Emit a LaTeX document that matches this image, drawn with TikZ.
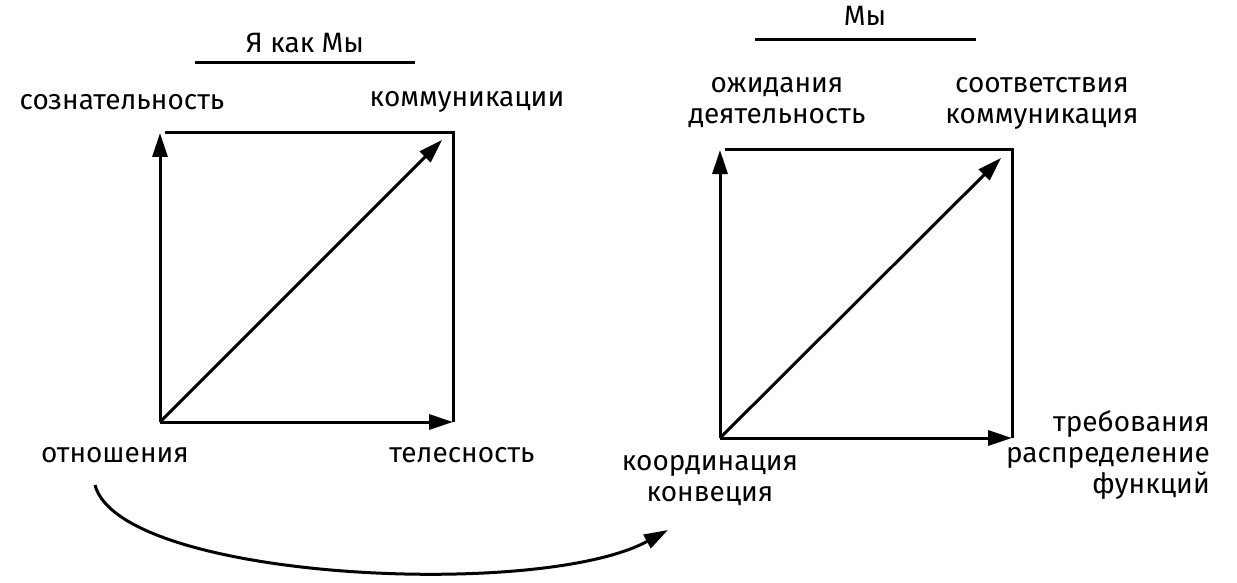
\documentclass[tikz,border=0pt]{standalone}
\usepackage{fontspec}
\setmainfont{Fira Sans}
\usetikzlibrary{arrows.meta}
\begin{document}
\begin{tikzpicture}[x=1pt,y=-1pt,
  ln/.style={line width=3pt},
  arr/.style={line width=3pt,-{Triangle[length=24pt,width=15pt]}},
  lbl/.style={font=\fontsize{28}{31}\selectfont,inner sep=0pt,align=center}]
\useasboundingbox (0,0) rectangle (1237,583);
% left square
\coordinate (a0) at (160,422); \coordinate (a1) at (160,133);
\coordinate (a2) at (453,133); \coordinate (a3) at (453,422);
\coordinate (a1r) at (165,133); \coordinate (ad) at (442,140);
\draw[arr] (a0) -- (a1);
\draw[ln] (a1r) -- (a2) -- (a3);
\draw[arr] (a0) -- (a3);
\draw[arr] (a0) -- (ad);
% right square
\coordinate (b0) at (720,438); \coordinate (b1) at (720,150);
\coordinate (b2) at (1012,150); \coordinate (b3) at (1012,438);
\coordinate (b1r) at (725,150); \coordinate (bd) at (1001,158);
\draw[arr] (b0) -- (b1);
\draw[ln] (b1r) -- (b2) -- (b3);
\draw[arr] (b0) -- (b3);
\draw[arr] (b0) -- (bd);
% titles
\node[lbl] (t1) at (305,43) {Я как Мы};
\coordinate (u1a) at (195,63); \coordinate (u1b) at (415,63);
\draw[ln] (u1a) -- (u1b);
\node[lbl] (t2) at (865,16) {Мы};
\coordinate (u2a) at (755,40); \coordinate (u2b) at (976,40);
\draw[ln] (u2a) -- (u2b);
% labels
\node[lbl] (s) at (122,102) {сознательность};
\node[lbl] (k) at (467,102) {коммуникации};
\node[lbl] (o) at (115,455) {отношения};
\node[lbl] (tl) at (462,455) {телесность};
\node[lbl] (od) at (777,103) {ожидания\\деятельность};
\node[lbl] (sk) at (1042,103) {соответствия\\коммуникация};
\node[lbl] (kk) at (710,481) {координация\\конвеция};
\node[lbl,align=right,anchor=north east] (tr) at (1210,410) {требования\\распределение\\функций};
% curve
\coordinate (c0) at (95,485); \coordinate (c1) at (668,530);
\draw[arr] (c0) .. controls (120,580) and (540,600) .. (c1);
\end{tikzpicture}
\end{document}
